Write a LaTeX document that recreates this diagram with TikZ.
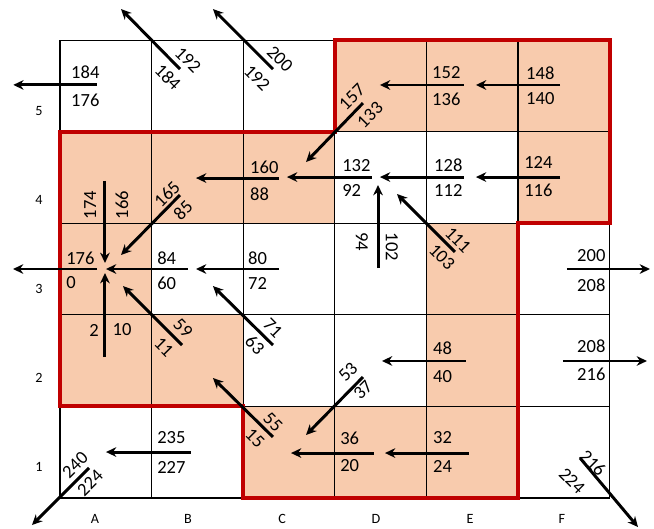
\documentclass[tikz,border=0pt]{standalone}
\usepackage{fontspec}
\setmainfont{Carlito}
\usetikzlibrary{arrows.meta}
\definecolor{pessego}{HTML}{F8CBAD}
\definecolor{vermelho}{HTML}{C00000}

\begin{document}
\begin{tikzpicture}[x=2.5cm, y=2.5cm,
    fluxo/.style={line width=2.3pt, -{Stealth[length=8pt, width=7.5pt]}},
    num/.style={font=\fontsize{14.4}{16}\selectfont, inner sep=0pt},
    eixo/.style={font=\fontsize{11}{13}\selectfont, inner sep=0pt}]
    \useasboundingbox (-0.655,-0.338) rectangle (6.485,5.437);

    % Celulas sombreadas
    \foreach \c/\r in {3/4,4/4,5/4,0/3,1/3,2/3,5/3,0/2,4/2,0/1,1/1,4/1,2/0,3/0,4/0}
        \fill[pessego] (\c,\r) rectangle ++(1,1);

    % Grade
    \foreach \i in {0,...,6}
        \draw[line width=0.8pt] (\i,0) -- (\i,5);
    \foreach \j in {0,...,5}
        \draw[line width=0.8pt] (0,\j) -- (6,\j);

    % Contorno
    \draw[vermelho, line width=3.2pt, line join=miter] (3,5) -- (6,5) -- (6,3) -- (5,3) -- (5,0) -- (2,0) -- (2,1) -- (0,1) -- (0,4) -- (3,4) -- cycle;

    % Eixos
    \foreach \l/\x in {A/0.382, B/1.397, C/2.424, D/3.450, E/4.476, F/5.480}
        \node[eixo] (col\l) at (\x,-0.23) {\l};
    \foreach \r/\y in {5/4.225, 4/3.253, 3/2.282, 2/1.310, 1/0.338}
        \node[eixo] (lin\r) at (-0.229,\y) {\r};

    % Linha 5
    \draw[fluxo] (0.40,4.51) -- (-0.51,4.51);
    \node[num, anchor=west] (a5t) at (0.12,4.651) {184};
    \node[num, anchor=west] (a5b) at (0.12,4.345) {176};
    \draw[fluxo] (1.310,4.683) -- (0.666,5.338);
    \node[num, rotate=-45] (b5t) at (1.397,4.782) {192};
    \node[num, rotate=-45] (b5b) at (1.179,4.596) {184};
    \draw[fluxo] (2.325,4.683) -- (1.670,5.338);
    \node[num, rotate=-45] (c5t) at (2.402,4.793) {200};
    \node[num, rotate=-45] (c5b) at (2.151,4.585) {192};
    \draw[fluxo] (3.308,4.312) -- (2.686,3.668);
    \node[num, rotate=45] (d5t) at (3.188,4.378) {157};
    \node[num, rotate=45] (d5b) at (3.384,4.181) {133};
    \draw[fluxo] (4.410,4.509) -- (3.493,4.509);
    \node[num, anchor=west] (e5t) at (4.061,4.640) {152};
    \node[num, anchor=west] (e5b) at (4.061,4.356) {136};
    \draw[fluxo] (5.459,4.509) -- (4.541,4.509);
    \node[num, anchor=west] (f5t) at (5.087,4.640) {148};
    \node[num, anchor=west] (f5b) at (5.087,4.356) {140};

    % Linha 4
    \draw[fluxo] (0.491,3.461) -- (0.491,2.566);
    \node[num, rotate=90] (a4l) at (0.328,3.199) {174};
    \node[num, rotate=90] (a4r) at (0.677,3.199) {166};
    \draw[fluxo] (1.310,3.308) -- (0.666,2.653);
    \node[num, rotate=45] (b4t) at (1.168,3.319) {165};
    \node[num, rotate=45] (b4b) at (1.343,3.144) {85};
    \draw[fluxo] (2.391,3.493) -- (1.485,3.493);
    \node[num, anchor=west] (c4t) at (2.074,3.614) {160};
    \node[num, anchor=west] (c4b) at (2.074,3.319) {88};
    \draw[fluxo] (3.406,3.504) -- (2.478,3.504);
    \node[num, anchor=west] (d4t) at (3.079,3.635) {132};
    \node[num, anchor=west] (d4b) at (3.079,3.352) {92};
    \draw[fluxo] (4.410,3.504) -- (3.493,3.504);
    \node[num, anchor=west] (e4t) at (4.083,3.635) {128};
    \node[num, anchor=west] (e4b) at (4.083,3.352) {112};
    \draw[fluxo] (5.459,3.504) -- (4.541,3.504);
    \node[num, anchor=west] (f4t) at (5.066,3.668) {124};
    \node[num, anchor=west] (f4b) at (5.066,3.362) {116};

    % Linha 3
    \draw[fluxo] (0.404,2.5) -- (-0.513,2.5);
    \node[num, anchor=west] (a3t) at (0.066,2.620) {176};
    \node[num, anchor=west] (a3b) at (0.066,2.347) {0};
    \draw[fluxo] (1.397,2.5) -- (0.502,2.5);
    \node[num, anchor=west] (b3t) at (1.059,2.620) {84};
    \node[num, anchor=west] (b3b) at (1.059,2.347) {60};
    \draw[fluxo] (2.391,2.5) -- (1.485,2.5);
    \node[num, anchor=west] (c3t) at (2.052,2.620) {80};
    \node[num, anchor=west] (c3b) at (2.052,2.347) {72};
    \draw[fluxo] (3.472,2.511) -- (3.472,3.417);
    \node[num, rotate=-90] (d3l) at (3.297,2.795) {94};
    \node[num, rotate=-90] (d3r) at (3.624,2.740) {102};
    \draw[fluxo] (4.312,2.686) -- (3.679,3.319);
    \node[num, rotate=-45] (e3t) at (4.345,2.817) {111};
    \node[num, rotate=-45] (e3b) at (4.170,2.631) {103};
    \draw[fluxo] (5.535,2.5) -- (6.441,2.5);
    \node[num, anchor=west] (f3t) at (5.644,2.642) {200};
    \node[num, anchor=west] (f3b) at (5.644,2.325) {208};

    % Linha 2
    \draw[fluxo] (0.491,1.539) -- (0.491,2.456);
    \node[num] (a2l) at (0.371,1.834) {2};
    \node[num] (a2r) at (0.677,1.834) {10};
    \draw[fluxo] (1.332,1.670) -- (0.688,2.314);
    \node[num, rotate=-45] (b2t) at (1.343,1.856) {59};
    \node[num, rotate=-45] (b2b) at (1.135,1.648) {11};
    \draw[fluxo] (2.325,1.670) -- (1.670,2.314);
    \node[num, rotate=-45] (c2t) at (2.325,1.856) {71};
    \node[num, rotate=-45] (c2b) at (2.129,1.670) {63};
    \draw[fluxo] (3.308,1.321) -- (2.686,0.688);
    \node[num, rotate=45] (d2t) at (3.144,1.376) {53};
    \node[num, rotate=45] (d2b) at (3.308,1.179) {37};
    \draw[fluxo] (4.432,1.496) -- (3.515,1.496);
    \node[num, anchor=west] (e2t) at (4.072,1.638) {48};
    \node[num, anchor=west] (e2b) at (4.072,1.321) {40};
    \draw[fluxo] (5.491,1.496) -- (6.408,1.496);
    \node[num, anchor=west] (f2t) at (5.644,1.659) {208};
    \node[num, anchor=west] (f2b) at (5.644,1.354) {216};

    % Linha 1
    \draw[fluxo] (0.317,0.328) -- (-0.306,-0.295);
    \node[num, rotate=45] (a1t) at (0.164,0.360) {240};
    \node[num, rotate=45] (a1b) at (0.328,0.164) {224};
    \draw[fluxo] (1.430,0.502) -- (0.502,0.502);
    \node[num, anchor=west] (b1t) at (1.059,0.655) {235};
    \node[num, anchor=west] (b1b) at (1.059,0.338) {227};
    \draw[fluxo] (2.325,0.666) -- (1.670,1.310);
    \node[num, rotate=-45] (c1t) at (2.325,0.830) {55};
    \node[num, rotate=-45] (c1b) at (2.129,0.655) {15};
    \draw[fluxo] (3.428,0.491) -- (2.522,0.491);
    \node[num, anchor=west] (d1t) at (3.057,0.655) {36};
    \node[num, anchor=west] (d1b) at (3.057,0.349) {20};
    \draw[fluxo] (4.465,0.491) -- (3.548,0.491);
    \node[num, anchor=west] (e1t) at (4.072,0.655) {32};
    \node[num, anchor=west] (e1b) at (4.072,0.349) {24};
    \draw[fluxo] (5.677,0.437) -- (6.310,-0.317);
    \node[num, rotate=-45] (f1t) at (5.819,0.382) {216};
    \node[num, rotate=-45] (f1b) at (5.590,0.186) {224};
\end{tikzpicture}
\end{document}
